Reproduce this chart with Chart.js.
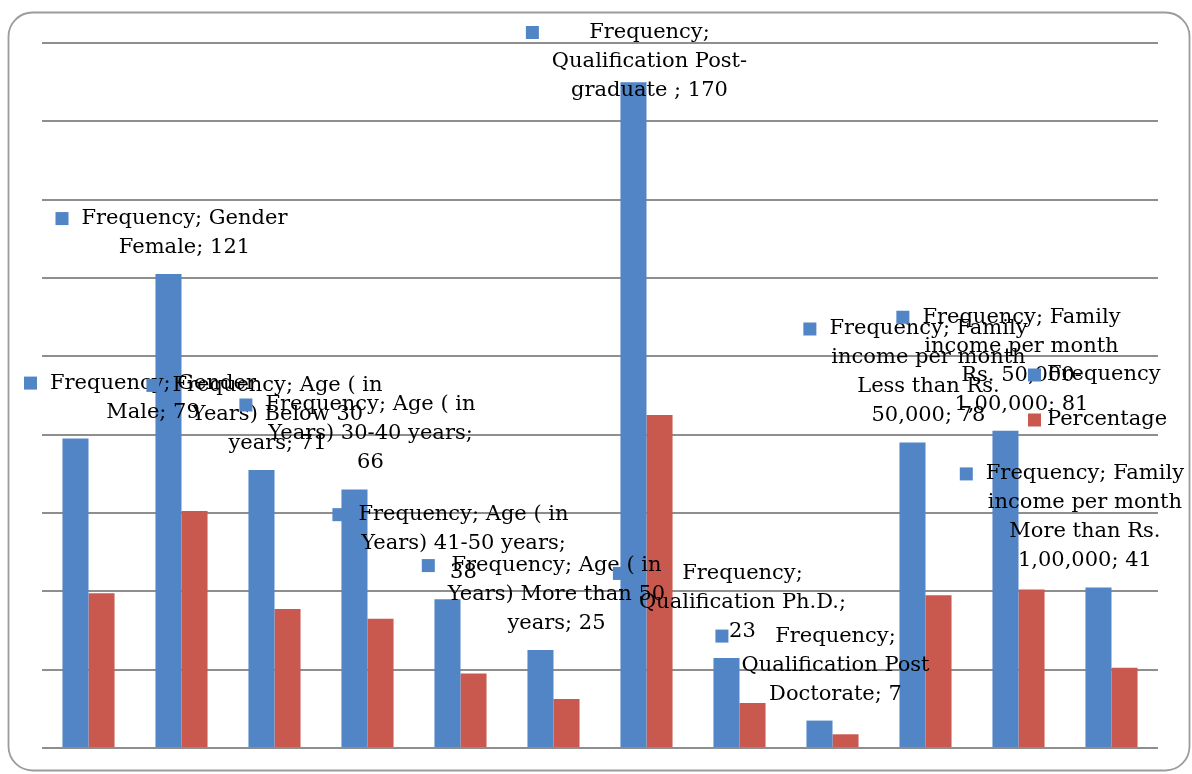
<!DOCTYPE html>
<html>
<head>
<meta charset="utf-8">
<script src="https://cdn.jsdelivr.net/npm/chart.js@4/dist/chart.umd.min.js"></script>
<style>
  html, body { margin: 0; padding: 0; background: #ffffff; }
  #wrap { width: 1192px; height: 774px; position: relative; }
</style>
</head>
<body>
<div id="wrap"><canvas id="chart" width="1192" height="774"></canvas></div>
<script>
// Respondent profile: frequency and percentage per category
const categories = [
  "Gender Male",
  "Gender Female",
  "Age ( in Years) Below 30 years",
  "Age ( in Years) 30-40 years",
  "Age ( in Years) 41-50 years",
  "Age ( in Years) More than 50 years",
  "Qualification Post-graduate ",
  "Qualification Ph.D.",
  "Qualification Post Doctorate",
  "Family income per month Less than Rs. 50,000",
  "Family income per month Rs. 50,000-1,00,000",
  "Family income per month More than Rs. 1,00,000"
];
const frequency = [79, 121, 71, 66, 38, 25, 170, 23, 7, 78, 81, 41];
const percentage = [39.5, 60.5, 35.5, 33, 19, 12.5, 85, 11.5, 3.5, 39, 40.5, 20.5];
const seriesNames = ["Frequency", "Percentage"];
const yMin = 0, yMax = 180, yStep = 20;

const BLUE = "#5185C5";
const RED = "#C9584F";
const LABEL_FONT = '21px "DejaVu Serif"';
const LINE_H = 29;
const KEY = 13;       // legend key square size
const KEY_SPACE = 26; // key plus gap before the text

// Rounded outer frame around the whole chart
const framePlugin = {
  id: "frame",
  beforeDraw(chart) {
    const ctx = chart.ctx;
    const x = 8.5, y = 12.5, w = 1181, h = 758, r = 24;
    ctx.save();
    ctx.fillStyle = "#ffffff";
    ctx.fillRect(0, 0, chart.width, chart.height);
    ctx.beginPath();
    ctx.moveTo(x + r, y);
    ctx.lineTo(x + w - r, y);
    ctx.arcTo(x + w, y, x + w, y + r, r);
    ctx.lineTo(x + w, y + h - r);
    ctx.arcTo(x + w, y + h, x + w - r, y + h, r);
    ctx.lineTo(x + r, y + h);
    ctx.arcTo(x, y + h, x, y + h - r, r);
    ctx.lineTo(x, y + r);
    ctx.arcTo(x, y, x + r, y, r);
    ctx.closePath();
    ctx.strokeStyle = "#9c9c9c";
    ctx.lineWidth = 1.8;
    ctx.stroke();
    ctx.restore();
  }
};

// Greedy word wrap; a hyphen is also a break opportunity
function wrapText(ctx, text, maxW) {
  const pieces = [];
  text.split(" ").forEach((word, wi) => {
    word.split(/(?<=-)/).forEach((p, pi) => {
      pieces.push({ t: p, sep: (pi === 0 && wi > 0) ? " " : "" });
    });
  });
  const lines = [];
  let cur = "";
  for (const p of pieces) {
    if (cur === "") { cur = p.t; continue; }
    const cand = cur + p.sep + p.t;
    if (ctx.measureText(cand).width <= maxW) cur = cand;
    else { lines.push(cur); cur = p.t; }
  }
  if (cur) lines.push(cur);
  return lines;
}

// Data callouts above the Frequency bars, each with a legend key
const calloutPlugin = {
  id: "callouts",
  afterDatasetsDraw(chart) {
    const ctx = chart.ctx;
    const meta = chart.getDatasetMeta(0);
    const ds = chart.data.datasets[0];
    const bounds = { left: 24, right: 1184, top: 18 };
    ctx.save();
    ctx.font = LABEL_FONT;
    meta.data.forEach((bar, i) => {
      const text = ds.label + "; " + chart.data.labels[i] + "; " + ds.data[i];
      const lines = wrapText(ctx, text, 218);
      const textW = Math.max(...lines.map(l => ctx.measureText(l).width));
      const blockW = textW + KEY_SPACE;
      let left = bar.x + 3 - blockW / 2;
      if (left < bounds.left) left = bounds.left;
      if (left + blockW > bounds.right) left = bounds.right - blockW;
      let top = bar.y - 12 - lines.length * LINE_H;
      if (top < bounds.top) top = bounds.top;
      const textCx = left + KEY_SPACE + textW / 2;
      const firstY = top + LINE_H / 2;
      ctx.fillStyle = ds.backgroundColor;
      ctx.fillRect(left, firstY - KEY / 2, KEY, KEY);
      ctx.fillStyle = "#000000";
      ctx.textAlign = "center";
      ctx.textBaseline = "middle";
      lines.forEach((l, k) => ctx.fillText(l, textCx, firstY + k * LINE_H));
    });
    ctx.restore();
  }
};

// Series legend drawn over the right side of the plot
const legendPlugin = {
  id: "seriesLegend",
  afterDraw(chart) {
    const ctx = chart.ctx;
    const x = chart.chartArea.right - 130;
    const y0 = 375, gap = 45;
    ctx.save();
    ctx.font = LABEL_FONT;
    ctx.textAlign = "left";
    ctx.textBaseline = "middle";
    chart.data.datasets.forEach((d, k) => {
      const y = y0 + k * gap;
      ctx.fillStyle = d.backgroundColor;
      ctx.fillRect(x, y - KEY / 2, KEY, KEY);
      ctx.fillStyle = "#000000";
      ctx.fillText(d.label, x + 19, y);
    });
    ctx.restore();
  }
};

new Chart(document.getElementById("chart"), {
  type: "bar",
  data: {
    labels: categories,
    datasets: [
      { label: seriesNames[0], data: frequency, backgroundColor: BLUE },
      { label: seriesNames[1], data: percentage, backgroundColor: RED }
    ]
  },
  options: {
    responsive: false,
    animation: false,
    devicePixelRatio: 1,
    layout: { padding: { left: 42, top: 43, right: 34, bottom: 26 } },
    datasets: { bar: { categoryPercentage: 0.56, barPercentage: 1.0 } },
    plugins: { legend: { display: false }, tooltip: { enabled: false } },
    scales: {
      x: { display: false },
      y: {
        min: yMin, max: yMax,
        ticks: { display: false, stepSize: yStep },
        grid: { color: "#8e8e8e", lineWidth: 2, drawTicks: false },
        border: { display: false }
      }
    }
  },
  plugins: [framePlugin, calloutPlugin, legendPlugin]
});
</script>
</body>
</html>
